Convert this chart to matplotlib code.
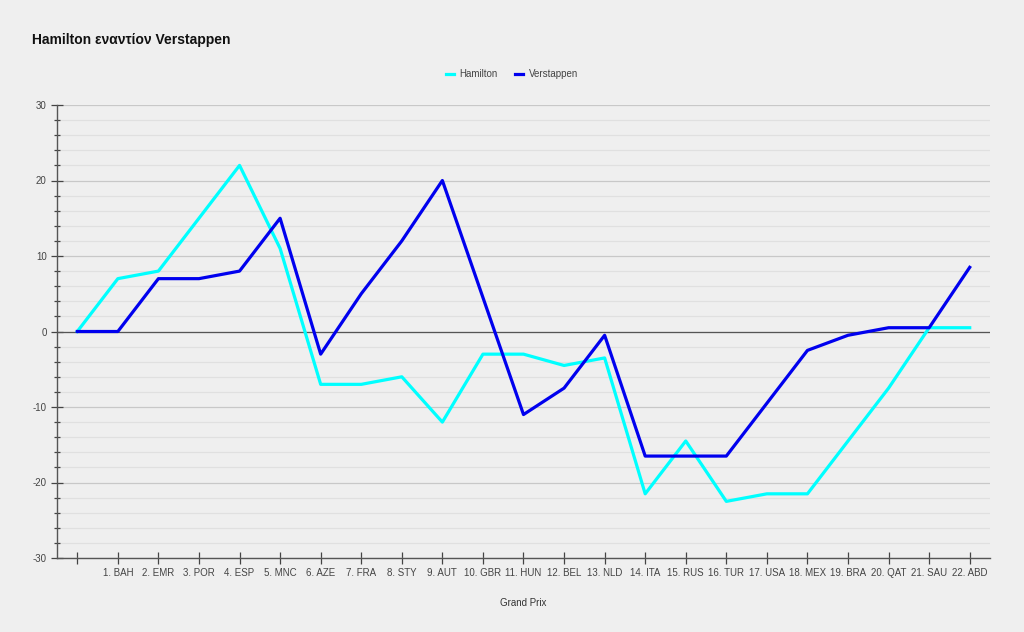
import numpy as np
import matplotlib.pyplot as plt
from matplotlib.ticker import MultipleLocator

races = ['', '1. BAH', '2. EMR', '3. POR', '4. ESP', '5. MNC', '6. AZE', '7. FRA',
         '8. STY', '9. AUT', '10. GBR', '11. HUN', '12. BEL', '13. NLD', '14. ITA',
         '15. RUS', '16. TUR', '17. USA', '18. MEX', '19. BRA', '20. QAT', '21. SAU',
         '22. ABD']
hamilton = [0, 7, 8, 15, 22, 11, -7, -7, -6, -12, -3, -3, -4.5, -3.5, -21.5,
            -14.5, -22.5, -21.5, -21.5, -14.5, -7.5, 0.5, 0.5]
verstappen = [0, 0, 7, 7, 8, 15, -3, 5, 12, 20, 4.5, -11, -7.5, -0.5, -16.5,
              -16.5, -16.5, -9.5, -2.5, -0.5, 0.5, 0.5, 8.5]

plt.rcParams['font.family'] = ['Liberation Sans', 'DejaVu Sans']
plt.rcParams['axes.unicode_minus'] = False
bg = '#efefef'
fig = plt.figure(figsize=(10.24, 6.32), dpi=100, facecolor=bg)
ax = fig.add_axes([57/1024, 1 - 558/632, (990-57)/1024, (558-105)/632])
ax.set_facecolor(bg)

x = np.arange(len(races))
ax.plot(x, hamilton, color='#00ffff', lw=2.3, label='Hamilton', zorder=3)
ax.plot(x, verstappen, color='#0000ee', lw=2.3, label='Verstappen', zorder=3)

ax.set_xlim(-0.5, 22.5)
ax.set_ylim(-30, 30)
ax.set_xticks(x)
ax.set_xticklabels(races)
ax.yaxis.set_major_locator(MultipleLocator(10))
ax.yaxis.set_minor_locator(MultipleLocator(2))

ax.grid(axis='y', which='major', color='#c8c8c8', lw=0.9)
ax.grid(axis='y', which='minor', color='#e0e0e0', lw=0.9)
ax.axhline(0, color='#555555', lw=0.9, zorder=2)

for s in ['top', 'right']:
    ax.spines[s].set_visible(False)
for s in ['left', 'bottom']:
    ax.spines[s].set_color('#555555')
    ax.spines[s].set_linewidth(1.0)

ax.tick_params(axis='both', which='major', direction='inout', length=8,
               width=0.9, color='#444444', labelsize=7, labelcolor='#444444')
ax.tick_params(axis='y', which='minor', direction='inout', length=5,
               width=0.9, color='#444444')

ax.set_xlabel('Grand Prix', fontsize=7, color='#333333', labelpad=14)
fig.text(32/1024, 1 - 40/632, 'Hamilton εναντίον Verstappen', fontsize=10,
         fontweight='bold', va='center', ha='left', color='#111111')

fig.legend(loc='center', bbox_to_anchor=(512/1024, 1 - 74/632), ncol=2,
           frameon=False, fontsize=7, handlelength=0.8, handletextpad=0.6,
           columnspacing=1.8, labelcolor='#444444')

fig.savefig('out.png', dpi=100, facecolor=bg)
